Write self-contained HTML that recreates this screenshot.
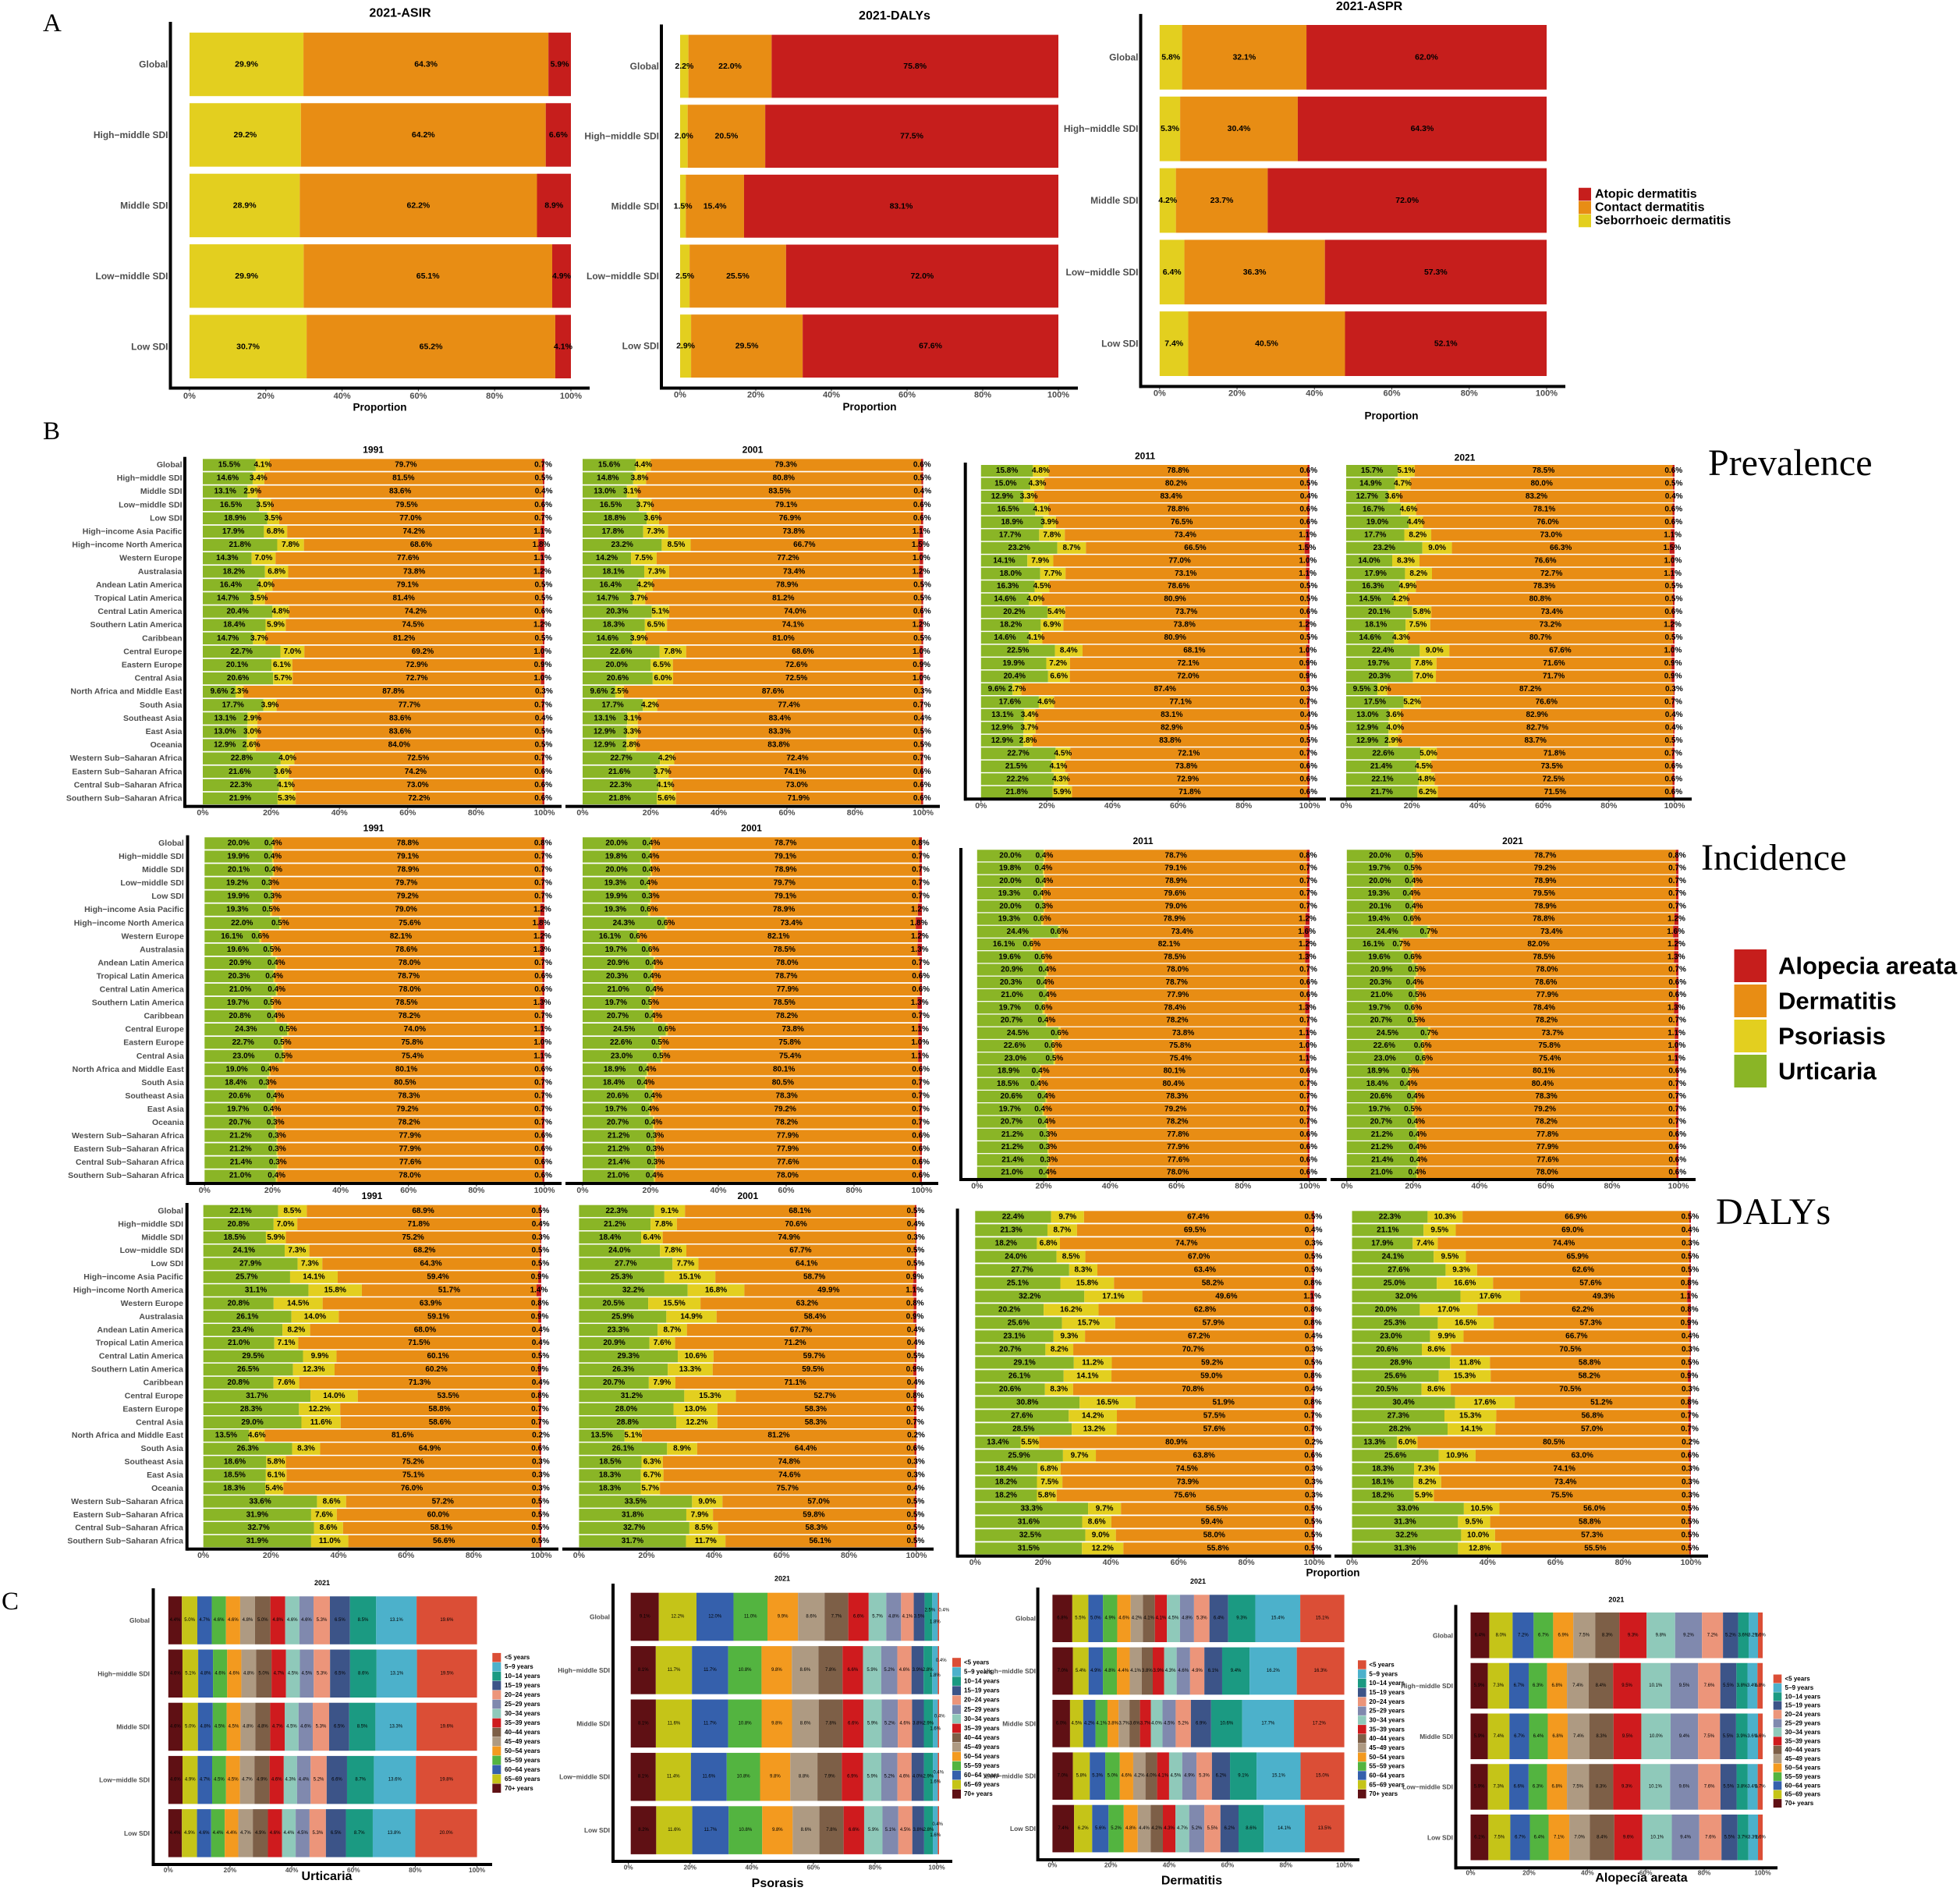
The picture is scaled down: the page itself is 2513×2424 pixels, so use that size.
<!DOCTYPE html>
<html lang="en">
<head>
<meta charset="utf-8">
<title>Global burden of skin diseases: stacked proportion charts</title>
<style>
  html, body { margin: 0; padding: 0; background: #ffffff; }
  #figure { display: block; width: 2513px; height: 2424px; font-family: "Liberation Sans", sans-serif; }
  .serif { font-family: "Liberation Serif", serif; }
</style>
</head>
<body>
<svg id="figure" xmlns="http://www.w3.org/2000/svg" width="2513" height="2424" viewBox="0 0 2513 2424">
  <rect x="0" y="0" width="2513" height="2424" fill="#ffffff"/>
  <text class="serif" x="55" y="40" font-size="33">A</text>
  <text class="serif" x="55" y="563" font-size="33">B</text>
  <text class="serif" x="2" y="2063" font-size="33">C</text>
  <text class="serif" x="2190" y="609" font-size="48">Prevalence</text>
  <text class="serif" x="2181" y="1115" font-size="48">Incidence</text>
  <text class="serif" x="2200" y="1569" font-size="48">DALYs</text>
</svg>
<script>
// ---------- shared categories, series and ticks ----------
const tickValues = [0, 20, 40, 60, 80, 100];
const tickLabels = ['0%', '20%', '40%', '60%', '80%', '100%'];
const sdiCategories = ['Global', 'High\u2212middle SDI', 'Middle SDI', 'Low\u2212middle SDI', 'Low SDI'];
const regionCategories = ['Global', 'High\u2212middle SDI', 'Middle SDI', 'Low\u2212middle SDI', 'Low SDI',
  'High\u2212income Asia Pacific', 'High\u2212income North America', 'Western Europe', 'Australasia',
  'Andean Latin America', 'Tropical Latin America', 'Central Latin America', 'Southern Latin America',
  'Caribbean', 'Central Europe', 'Eastern Europe', 'Central Asia', 'North Africa and Middle East',
  'South Asia', 'Southeast Asia', 'East Asia', 'Oceania', 'Western Sub\u2212Saharan Africa',
  'Eastern Sub\u2212Saharan Africa', 'Central Sub\u2212Saharan Africa', 'Southern Sub\u2212Saharan Africa'];

const dermatitisSeries = ['Seborrhoeic dermatitis', 'Contact dermatitis', 'Atopic dermatitis'];
const dermatitisColors = ['#e3cf1f', '#e88d14', '#c61e1c'];
const diseaseSeries = ['Urticaria', 'Psoriasis', 'Dermatitis', 'Alopecia areata'];
const diseaseColors = ['#8ab526', '#e3cf1f', '#e88d14', '#c61e1c'];
const ageSeries = ['70+ years', '65\u221269 years', '60\u221264 years', '55\u221259 years', '50\u221254 years',
  '45\u221249 years', '40\u221244 years', '35\u221239 years', '30\u221234 years', '25\u221229 years',
  '20\u221224 years', '15\u221219 years', '10\u221214 years', '5\u22129 years', '<5 years'];
const ageColors = ['#5f1014', '#c5c418', '#3560ac', '#53b440', '#f39a1f', '#ae9a82', '#7d5f47', '#cf1b1e',
  '#8fc9ba', '#8089ae', '#ec957a', '#3c5488', '#1b9a82', '#4cb1cb', '#db4e36'];

// ---------- Panel A values (rows = SDI groups, columns = dermatitisSeries) ----------
const asir2021 = [[29.9,64.3,5.9],[29.2,64.2,6.6],[28.9,62.2,8.9],[29.9,65.1,4.9],[30.7,65.2,4.1]];
const dalys2021 = [[2.2,22.0,75.8],[2.0,20.5,77.5],[1.5,15.4,83.1],[2.5,25.5,72.0],[2.9,29.5,67.6]];
const aspr2021 = [[5.8,32.1,62.0],[5.3,30.4,64.3],[4.2,23.7,72.0],[6.4,36.3,57.3],[7.4,40.5,52.1]];

// ---------- Panel B values (rows = regionCategories, columns = diseaseSeries) ----------
const prevalence1991 = [[15.5,4.1,79.7,0.7],[14.6,3.4,81.5,0.5],[13.1,2.9,83.6,0.4],[16.5,3.5,79.5,0.6],[18.9,3.5,77.0,0.7],[17.9,6.8,74.2,1.1],[21.8,7.8,68.6,1.8],[14.3,7.0,77.6,1.1],[18.2,6.8,73.8,1.2],[16.4,4.0,79.1,0.5],[14.7,3.5,81.4,0.5],[20.4,4.8,74.2,0.6],[18.4,5.9,74.5,1.2],[14.7,3.7,81.2,0.5],[22.7,7.0,69.2,1.0],[20.1,6.1,72.9,0.9],[20.6,5.7,72.7,1.0],[9.6,2.3,87.8,0.3],[17.7,3.9,77.7,0.7],[13.1,2.9,83.6,0.4],[13.0,3.0,83.6,0.5],[12.9,2.6,84.0,0.5],[22.8,4.0,72.5,0.7],[21.6,3.6,74.2,0.6],[22.3,4.1,73.0,0.6],[21.9,5.3,72.2,0.6]];
const prevalence2001 = [[15.6,4.4,79.3,0.6],[14.8,3.8,80.8,0.5],[13.0,3.1,83.5,0.4],[16.5,3.7,79.1,0.6],[18.8,3.6,76.9,0.6],[17.8,7.3,73.8,1.1],[23.2,8.5,66.7,1.5],[14.2,7.5,77.2,1.0],[18.1,7.3,73.4,1.2],[16.4,4.2,78.9,0.5],[14.7,3.7,81.2,0.5],[20.3,5.1,74.0,0.6],[18.3,6.5,74.1,1.2],[14.6,3.9,81.0,0.5],[22.6,7.8,68.6,1.0],[20.0,6.5,72.6,0.9],[20.6,6.0,72.5,1.0],[9.6,2.5,87.6,0.3],[17.7,4.2,77.4,0.7],[13.1,3.1,83.4,0.4],[12.9,3.3,83.3,0.5],[12.9,2.8,83.8,0.5],[22.7,4.2,72.4,0.7],[21.6,3.7,74.1,0.6],[22.3,4.1,73.0,0.6],[21.8,5.6,71.9,0.6]];
const prevalence2011 = [[15.8,4.8,78.8,0.6],[15.0,4.3,80.2,0.5],[12.9,3.3,83.4,0.4],[16.5,4.1,78.8,0.6],[18.9,3.9,76.5,0.6],[17.7,7.8,73.4,1.1],[23.2,8.7,66.5,1.5],[14.1,7.9,77.0,1.0],[18.0,7.7,73.1,1.1],[16.3,4.5,78.6,0.5],[14.6,4.0,80.9,0.5],[20.2,5.4,73.7,0.6],[18.2,6.9,73.8,1.2],[14.6,4.1,80.9,0.5],[22.5,8.4,68.1,1.0],[19.9,7.2,72.1,0.9],[20.4,6.6,72.0,0.9],[9.6,2.7,87.4,0.3],[17.6,4.6,77.1,0.7],[13.1,3.4,83.1,0.4],[12.9,3.7,82.9,0.5],[12.9,2.8,83.8,0.5],[22.7,4.5,72.1,0.7],[21.5,4.1,73.8,0.6],[22.2,4.3,72.9,0.6],[21.8,5.9,71.8,0.6]];
const prevalence2021 = [[15.7,5.1,78.5,0.6],[14.9,4.7,80.0,0.5],[12.7,3.6,83.2,0.4],[16.7,4.6,78.1,0.6],[19.0,4.4,76.0,0.6],[17.7,8.2,73.0,1.1],[23.2,9.0,66.3,1.5],[14.0,8.3,76.6,1.0],[17.9,8.2,72.7,1.1],[16.3,4.9,78.3,0.5],[14.5,4.2,80.8,0.5],[20.1,5.8,73.4,0.6],[18.1,7.5,73.2,1.2],[14.6,4.3,80.7,0.5],[22.4,9.0,67.6,1.0],[19.7,7.8,71.6,0.9],[20.3,7.0,71.7,0.9],[9.5,3.0,87.2,0.3],[17.5,5.2,76.6,0.7],[13.0,3.6,82.9,0.4],[12.9,4.0,82.7,0.4],[12.9,2.9,83.7,0.5],[22.6,5.0,71.8,0.7],[21.4,4.5,73.5,0.6],[22.1,4.8,72.5,0.6],[21.7,6.2,71.5,0.6]];

const incidence1991 = [[20.0,0.4,78.8,0.8],[19.9,0.4,79.1,0.7],[20.1,0.4,78.9,0.7],[19.2,0.3,79.7,0.7],[19.9,0.3,79.2,0.7],[19.3,0.5,79.0,1.2],[22.0,0.5,75.6,1.8],[16.1,0.6,82.1,1.2],[19.6,0.5,78.6,1.3],[20.9,0.4,78.0,0.7],[20.3,0.4,78.7,0.6],[21.0,0.4,78.0,0.6],[19.7,0.5,78.5,1.3],[20.8,0.4,78.2,0.7],[24.3,0.5,74.0,1.1],[22.7,0.5,75.8,1.0],[23.0,0.5,75.4,1.1],[19.0,0.4,80.1,0.6],[18.4,0.3,80.5,0.7],[20.6,0.4,78.3,0.7],[19.7,0.4,79.2,0.7],[20.7,0.3,78.2,0.7],[21.2,0.3,77.9,0.6],[21.2,0.3,77.9,0.6],[21.4,0.3,77.6,0.6],[21.0,0.4,78.0,0.6]];
const incidence2001 = [[20.0,0.4,78.7,0.8],[19.8,0.4,79.1,0.7],[20.0,0.4,78.9,0.7],[19.3,0.4,79.7,0.7],[19.9,0.3,79.1,0.7],[19.3,0.6,78.9,1.2],[24.3,0.6,73.4,1.8],[16.1,0.6,82.1,1.2],[19.7,0.6,78.5,1.3],[20.9,0.4,78.0,0.7],[20.3,0.4,78.7,0.6],[21.0,0.4,77.9,0.6],[19.7,0.5,78.5,1.3],[20.7,0.4,78.2,0.7],[24.5,0.6,73.8,1.1],[22.6,0.5,75.8,1.0],[23.0,0.5,75.4,1.1],[18.9,0.4,80.1,0.6],[18.4,0.4,80.5,0.7],[20.6,0.4,78.3,0.7],[19.7,0.4,79.2,0.7],[20.7,0.4,78.2,0.7],[21.2,0.3,77.9,0.6],[21.2,0.3,77.9,0.6],[21.4,0.3,77.6,0.6],[21.0,0.4,78.0,0.6]];
const incidence2011 = [[20.0,0.4,78.7,0.8],[19.8,0.4,79.1,0.7],[20.0,0.4,78.9,0.7],[19.3,0.4,79.6,0.7],[20.0,0.3,79.0,0.7],[19.3,0.6,78.9,1.2],[24.4,0.6,73.4,1.6],[16.1,0.6,82.1,1.2],[19.6,0.6,78.5,1.3],[20.9,0.4,78.0,0.7],[20.3,0.4,78.7,0.6],[21.0,0.4,77.9,0.6],[19.7,0.6,78.4,1.3],[20.7,0.4,78.2,0.7],[24.5,0.6,73.8,1.1],[22.6,0.6,75.8,1.0],[23.0,0.5,75.4,1.1],[18.9,0.4,80.1,0.6],[18.5,0.4,80.4,0.7],[20.6,0.4,78.3,0.7],[19.7,0.4,79.2,0.7],[20.7,0.4,78.2,0.7],[21.2,0.3,77.8,0.6],[21.2,0.3,77.9,0.6],[21.4,0.3,77.6,0.6],[21.0,0.4,78.0,0.6]];
const incidence2021 = [[20.0,0.5,78.7,0.8],[19.7,0.5,79.2,0.7],[20.0,0.4,78.9,0.7],[19.3,0.4,79.5,0.7],[20.1,0.4,78.9,0.7],[19.4,0.6,78.8,1.2],[24.4,0.7,73.4,1.6],[16.1,0.7,82.0,1.2],[19.6,0.6,78.5,1.3],[20.9,0.5,78.0,0.7],[20.3,0.4,78.6,0.6],[21.0,0.5,77.9,0.6],[19.7,0.6,78.4,1.3],[20.7,0.5,78.2,0.7],[24.5,0.7,73.7,1.1],[22.6,0.6,75.8,1.0],[23.0,0.6,75.4,1.1],[18.9,0.5,80.1,0.6],[18.4,0.4,80.4,0.7],[20.6,0.4,78.3,0.7],[19.7,0.5,79.2,0.7],[20.7,0.4,78.2,0.7],[21.2,0.4,77.8,0.6],[21.2,0.4,77.9,0.6],[21.4,0.4,77.6,0.6],[21.0,0.4,78.0,0.6]];

const dalys1991 = [[22.1,8.5,68.9,0.5],[20.8,7.0,71.8,0.4],[18.5,5.9,75.2,0.3],[24.1,7.3,68.2,0.5],[27.9,7.3,64.3,0.5],[25.7,14.1,59.4,0.9],[31.1,15.8,51.7,1.4],[20.8,14.5,63.9,0.8],[26.1,14.0,59.1,0.9],[23.4,8.2,68.0,0.4],[21.0,7.1,71.5,0.4],[29.5,9.9,60.1,0.5],[26.5,12.3,60.2,0.9],[20.8,7.6,71.3,0.4],[31.7,14.0,53.5,0.8],[28.3,12.2,58.8,0.7],[29.0,11.6,58.6,0.7],[13.5,4.6,81.6,0.2],[26.3,8.3,64.9,0.6],[18.6,5.8,75.2,0.3],[18.5,6.1,75.1,0.3],[18.3,5.4,76.0,0.3],[33.6,8.6,57.2,0.5],[31.9,7.6,60.0,0.5],[32.7,8.6,58.1,0.5],[31.9,11.0,56.6,0.5]];
const dalys2001 = [[22.3,9.1,68.1,0.5],[21.2,7.8,70.6,0.4],[18.4,6.4,74.9,0.3],[24.0,7.8,67.7,0.5],[27.7,7.7,64.1,0.5],[25.3,15.1,58.7,0.9],[32.2,16.8,49.9,1.1],[20.5,15.5,63.2,0.8],[25.9,14.9,58.4,0.9],[23.3,8.7,67.7,0.4],[20.9,7.6,71.2,0.4],[29.3,10.6,59.7,0.5],[26.3,13.3,59.5,0.9],[20.7,7.9,71.1,0.4],[31.2,15.3,52.7,0.8],[28.0,13.0,58.3,0.7],[28.8,12.2,58.3,0.7],[13.5,5.1,81.2,0.2],[26.1,8.9,64.4,0.6],[18.5,6.3,74.8,0.3],[18.3,6.7,74.6,0.3],[18.3,5.7,75.7,0.4],[33.5,9.0,57.0,0.5],[31.8,7.9,59.8,0.5],[32.7,8.5,58.3,0.5],[31.7,11.7,56.1,0.5]];
const dalys2011 = [[22.4,9.7,67.4,0.5],[21.3,8.7,69.5,0.4],[18.2,6.8,74.7,0.3],[24.0,8.5,67.0,0.5],[27.7,8.3,63.4,0.5],[25.1,15.8,58.2,0.8],[32.2,17.1,49.6,1.1],[20.2,16.2,62.8,0.8],[25.6,15.7,57.9,0.8],[23.1,9.3,67.2,0.4],[20.7,8.2,70.7,0.3],[29.1,11.2,59.2,0.5],[26.1,14.1,59.0,0.8],[20.6,8.3,70.8,0.4],[30.8,16.5,51.9,0.8],[27.6,14.2,57.5,0.7],[28.5,13.2,57.6,0.7],[13.4,5.5,80.9,0.2],[25.9,9.7,63.8,0.6],[18.4,6.8,74.5,0.3],[18.2,7.5,73.9,0.3],[18.2,5.8,75.6,0.3],[33.3,9.7,56.5,0.5],[31.6,8.6,59.4,0.5],[32.5,9.0,58.0,0.5],[31.5,12.2,55.8,0.5]];
const dalysRegion2021 = [[22.3,10.3,66.9,0.5],[21.1,9.5,69.0,0.4],[17.9,7.4,74.4,0.3],[24.1,9.5,65.9,0.5],[27.6,9.3,62.6,0.5],[25.0,16.6,57.6,0.8],[32.0,17.6,49.3,1.1],[20.0,17.0,62.2,0.8],[25.3,16.5,57.3,0.9],[23.0,9.9,66.7,0.4],[20.6,8.6,70.5,0.3],[28.9,11.8,58.8,0.5],[25.6,15.3,58.2,0.9],[20.5,8.6,70.5,0.3],[30.4,17.6,51.2,0.8],[27.3,15.3,56.8,0.7],[28.2,14.1,57.0,0.7],[13.3,6.0,80.5,0.2],[25.6,10.9,63.0,0.6],[18.3,7.3,74.1,0.3],[18.1,8.2,73.4,0.3],[18.2,5.9,75.5,0.3],[33.0,10.5,56.0,0.5],[31.3,9.5,58.8,0.5],[32.2,10.0,57.3,0.5],[31.3,12.8,55.5,0.5]];

// ---------- Panel C values (rows = SDI groups, columns = ageSeries) ----------
const urticariaAges = [[4.4,5.0,4.7,4.6,4.6,4.8,5.0,4.8,4.6,4.6,5.3,6.5,8.5,13.1,19.6],[4.6,5.1,4.8,4.6,4.6,4.8,5.0,4.7,4.5,4.5,5.3,6.5,8.6,13.1,19.5],[4.6,5.0,4.8,4.5,4.5,4.8,4.8,4.7,4.5,4.6,5.3,6.5,8.5,13.3,19.6],[4.6,4.9,4.7,4.5,4.5,4.7,4.9,4.6,4.3,4.4,5.2,6.6,8.7,13.6,19.8],[4.4,4.9,4.6,4.4,4.4,4.7,4.9,4.6,4.4,4.5,5.3,6.5,8.7,13.8,20.0]];
const psoriasisAges = [[9.1,12.2,12.0,11.0,9.9,8.6,7.7,6.6,5.7,4.8,4.1,3.5,2.5,1.8,0.4],[8.1,11.7,11.7,10.8,9.8,8.6,7.8,6.6,5.9,5.2,4.6,3.9,2.8,1.8,0.4],[8.1,11.6,11.7,10.8,9.8,8.6,7.8,6.6,5.9,5.2,4.6,3.8,2.9,1.6,0.4],[8.1,11.4,11.6,10.8,9.8,8.8,7.9,6.9,5.9,5.2,4.6,4.0,2.9,1.6,0.4],[8.2,11.6,11.7,10.8,9.8,8.6,7.8,6.6,5.9,5.1,4.5,3.8,2.8,1.6,0.4]];
const dermatitisAges = [[6.8,5.5,5.0,4.9,4.6,4.2,4.1,4.1,4.5,4.8,5.3,6.4,9.3,15.4,15.1],[7.0,5.4,4.9,4.8,4.4,4.1,3.8,3.9,4.3,4.6,4.9,6.1,9.4,16.2,16.3],[6.0,4.5,4.2,4.1,3.8,3.7,3.6,3.7,4.0,4.5,5.2,6.9,10.6,17.7,17.2],[7.0,5.8,5.3,5.0,4.6,4.2,4.0,4.1,4.5,4.9,5.3,6.2,9.1,15.1,15.0],[7.4,6.2,5.6,5.2,4.8,4.4,4.2,4.3,4.7,5.2,5.5,6.2,8.6,14.1,13.5]];
const alopeciaAges = [[6.4,8.0,7.2,6.7,6.9,7.5,8.3,9.3,9.8,9.2,7.2,5.2,3.6,3.2,1.6],[5.9,7.3,6.7,6.3,6.8,7.4,8.4,9.5,10.1,9.5,7.6,5.5,3.8,3.4,1.8],[5.9,7.4,6.7,6.4,6.8,7.4,8.3,9.5,10.0,9.4,7.5,5.5,3.9,3.6,1.6],[5.9,7.3,6.6,6.3,6.8,7.5,8.3,9.3,10.1,9.6,7.6,5.5,3.8,3.4,1.7],[6.1,7.5,6.7,6.4,7.1,7.0,8.4,9.6,10.1,9.4,7.6,5.5,3.7,3.3,1.6]];

// ---------- drawing ----------
const SVGNS = 'http://www.w3.org/2000/svg';
const svg = document.getElementById('figure');
const GREY = '#4d4d4d';

function shape(parent, tag, attrs, content) {
  const node = document.createElementNS(SVGNS, tag);
  Object.keys(attrs).forEach(function (k) { node.setAttribute(k, attrs[k]); });
  if (content !== undefined) node.textContent = content;
  parent.appendChild(node);
  return node;
}

function slug(s) {
  return String(s).toLowerCase().replace(/[^a-z0-9]+/g, '-').replace(/^-|-$/g, '');
}

function drawPanel(cfg, rows, categories, series, colors) {
  const g = shape(svg, 'g', {});
  
  

  const xScale = function (pct) { return cfg.x0 + (cfg.x100 - cfg.x0) * pct / 100; };
  const yScale = function (i) { return cfg.top + cfg.step * i; };
  const f = cfg.fonts;

  rows.forEach(function (row, i) {
    const total = row.reduce(function (a, b) { return a + b; }, 0);
    const y = yScale(i);
    let cum = 0;
    row.forEach(function (value, j) {
      const share = value / total * 100;
      const left = xScale(cum);
      const right = xScale(cum + share);
      const bar = shape(g, 'rect', { x: left, y: y, width: right - left, height: cfg.h, fill: colors[j] });
      
      
      cum += share;
    });
    cum = 0;
    row.forEach(function (value, j) {
      const share = value / total * 100;
      const mid = xScale(cum + share / 2);
      const nudge = cfg.nudge ? cfg.nudge(i, j) : [0, 0];
      const label = shape(g, 'text', {
        x: mid + nudge[0], y: y + cfg.h / 2 + nudge[1], 'text-anchor': 'middle', 'dominant-baseline': 'central',
        'font-size': f.value, 'font-weight': f.valueWeight, fill: '#000000'
      }, value.toFixed(1) + '%');
      
      
      cum += share;
    });
    if (cfg.labelRight) {
      const rowLabel = shape(g, 'text', {
        x: cfg.labelRight, y: y + cfg.h / 2, 'text-anchor': 'end', 'dominant-baseline': 'central',
        'font-size': f.category, 'font-weight': 'bold', fill: GREY
      }, categories[i]);
      
      
    }
  });

  if (cfg.yAxisX) {
    const yLine = shape(g, 'rect', { x: cfg.yAxisX - 2, y: cfg.axisTop, width: 4, height: cfg.axisY - cfg.axisTop + 2, fill: '#000000' });
    
    
  }
  const xLine = shape(g, 'rect', { x: cfg.axisL, y: cfg.axisY - 2, width: cfg.axisR - cfg.axisL, height: 4, fill: '#000000' });
  
  

  tickValues.forEach(function (tv, k) {
    const tx = xScale(tv) + (cfg.tickDx || 0);
    const tick = shape(g, 'rect', { x: tx - 0.5, y: cfg.axisY + 2, width: 1, height: 2, fill: '#333333' });
    
    
    const tickText = shape(g, 'text', {
      x: tx, y: cfg.tickY, 'text-anchor': 'middle', 'dominant-baseline': 'central',
      'font-size': f.tick, 'font-weight': 'bold', fill: GREY
    }, tickLabels[k]);
    
    
  });

  if (cfg.title) {
    const title = shape(g, 'text', {
      x: cfg.titleX, y: cfg.titleY, 'text-anchor': 'middle', 'dominant-baseline': 'central',
      'font-size': f.title, 'font-weight': 'bold', fill: '#000000'
    }, cfg.title);
    
    
  }
  if (cfg.xTitle) {
    const xTitle = shape(g, 'text', {
      x: cfg.xTitleX, y: cfg.xTitleY, 'text-anchor': 'middle', 'dominant-baseline': 'central',
      'font-size': f.xTitle, 'font-weight': 'bold', fill: '#000000'
    }, cfg.xTitle);
    
    
  }
}

function drawLegend(cfg, series, colors) {
  const g = shape(svg, 'g', {});
  
  
  const n = series.length;
  for (let k = 0; k < n; k++) {
    const idx = n - 1 - k;
    const cy = cfg.first + cfg.step * k;
    const swatch = shape(g, 'rect', { x: cfg.x, y: cy - cfg.h / 2, width: cfg.w, height: cfg.h, fill: colors[idx] });
    
    
    const text = shape(g, 'text', {
      x: cfg.textX, y: cy, 'dominant-baseline': 'central', 'font-size': cfg.font, 'font-weight': 'bold', fill: '#000000'
    }, series[idx]);
    
    
  }
}

// ---------- Panel A ----------
const fontsA = { value: 10.5, valueWeight: 'bold', category: 12, tick: 11, title: 16, xTitle: 13.5 };
drawPanel({ name: '2021-asir', fonts: fontsA, x0: 243, x100: 732, top: 41.8, step: 90.45, h: 81.4, labelRight: 215.5,
  yAxisX: 218.5, axisTop: 28, axisY: 497.5, axisL: 217, axisR: 756, tickY: 508,
  title: '2021-ASIR', titleX: 513, titleY: 17, xTitle: 'Proportion', xTitleX: 487, xTitleY: 522 },
  asir2021, sdiCategories, dermatitisSeries, dermatitisColors);
drawPanel({ name: '2021-dalys', fonts: fontsA, x0: 872, x100: 1357, top: 44.6, step: 89.65, h: 80.8, labelRight: 845,
  yAxisX: 848, axisTop: 31.4, axisY: 497.5, axisL: 846, axisR: 1382, tickY: 506.4,
  title: '2021-DALYs', titleX: 1147, titleY: 20.4, xTitle: 'Proportion', xTitleX: 1115, xTitleY: 521.4 },
  dalys2021, sdiCategories, dermatitisSeries, dermatitisColors);
drawPanel({ name: '2021-aspr', fonts: fontsA, x0: 1486.8, x100: 1983, top: 32, step: 91.8, h: 82.8, labelRight: 1459.5,
  yAxisX: 1462.5, axisTop: 17.9, axisY: 495.4, axisL: 1461, axisR: 2007, tickY: 504.6,
  title: '2021-ASPR', titleX: 1755.5, titleY: 8.6, xTitle: 'Proportion', xTitleX: 1784, xTitleY: 533 },
  aspr2021, sdiCategories, dermatitisSeries, dermatitisColors);
drawLegend({ name: 'dermatitis-types', x: 2024, w: 16, h: 16.5, first: 249, step: 17, textX: 2045, font: 16 },
  dermatitisSeries, dermatitisColors);

// ---------- Panel B ----------
const fontsB = { value: 10, valueWeight: 'bold', category: 10.5, tick: 10.5, title: 12, xTitle: 13.5 };
drawPanel({ name: 'prevalence-1991', fonts: fontsB, x0: 260, x100: 698, top: 588.3, step: 17.1, h: 15.4, labelRight: 233.5,
  yAxisX: 237, axisTop: 585.7, axisY: 1033.7, axisL: 237, axisR: 720, tickY: 1042, title: '1991', titleX: 478.6, titleY: 576.7 },
  prevalence1991, regionCategories, diseaseSeries, diseaseColors);
drawPanel({ name: 'prevalence-2001', fonts: fontsB, x0: 747, x100: 1183.6, top: 588.3, step: 17.1, h: 15.4,
  axisY: 1033.7, axisL: 725, axisR: 1205, tickY: 1042, title: '2001', titleX: 965, titleY: 576.7 },
  prevalence2001, regionCategories, diseaseSeries, diseaseColors);
drawPanel({ name: 'prevalence-2011', fonts: fontsB, x0: 1257.8, x100: 1679, top: 596, step: 16.47, h: 15,
  yAxisX: 1237.7, axisTop: 593, axisY: 1024.3, axisL: 1236, axisR: 1700, tickY: 1033, title: '2011', titleX: 1468, titleY: 584.7 },
  prevalence2011, regionCategories, diseaseSeries, diseaseColors);
drawPanel({ name: 'prevalence-2021', fonts: fontsB, x0: 1726, x100: 2147, top: 596, step: 16.47, h: 15,
  axisY: 1024.3, axisL: 1705, axisR: 2169, tickY: 1033, title: '2021', titleX: 1878, titleY: 586.7 },
  prevalence2021, regionCategories, diseaseSeries, diseaseColors);

drawPanel({ name: 'incidence-1991', fonts: fontsB, x0: 262.3, x100: 698, top: 1073.3, step: 17.05, h: 15.3, labelRight: 235.8,
  yAxisX: 240.5, axisTop: 1070.7, axisY: 1517, axisL: 240, axisR: 720, tickY: 1526, title: '1991', titleX: 479, titleY: 1061.7 },
  incidence1991, regionCategories, diseaseSeries, diseaseColors);
drawPanel({ name: 'incidence-2001', fonts: fontsB, x0: 747, x100: 1182, top: 1073.3, step: 17.05, h: 15.3,
  axisY: 1517, axisL: 725, axisR: 1203, tickY: 1526, title: '2001', titleX: 963.5, titleY: 1061.7 },
  incidence2001, regionCategories, diseaseSeries, diseaseColors);
drawPanel({ name: 'incidence-2011', fonts: fontsB, x0: 1252.8, x100: 1679, top: 1089.3, step: 16.25, h: 15,
  yAxisX: 1232, axisTop: 1087, axisY: 1512, axisL: 1232, axisR: 1701, tickY: 1520.7, title: '2011', titleX: 1465.5, titleY: 1078 },
  incidence2011, regionCategories, diseaseSeries, diseaseColors);
drawPanel({ name: 'incidence-2021', fonts: fontsB, x0: 1726.8, x100: 2152, top: 1089.3, step: 16.25, h: 15,
  axisY: 1512, axisL: 1706, axisR: 2174, tickY: 1520.7, title: '2021', titleX: 1939.5, titleY: 1078 },
  incidence2021, regionCategories, diseaseSeries, diseaseColors);

drawPanel({ name: 'dalys-1991', fonts: fontsB, x0: 260.7, x100: 694, top: 1544.7, step: 16.93, h: 15.4, labelRight: 235,
  yAxisX: 239.7, axisTop: 1542, axisY: 1985.7, axisL: 239.7, axisR: 716, tickY: 1994, title: '1991', titleX: 477, titleY: 1533 },
  dalys1991, regionCategories, diseaseSeries, diseaseColors);
drawPanel({ name: 'dalys-2001', fonts: fontsB, x0: 742.4, x100: 1175, top: 1544.7, step: 16.93, h: 15.4,
  axisY: 1985.7, axisL: 721, axisR: 1197, tickY: 1994, title: '2001', titleX: 958.8, titleY: 1533 },
  dalys2001, regionCategories, diseaseSeries, diseaseColors);
drawPanel({ name: 'dalys-2011', fonts: fontsB, x0: 1250.3, x100: 1685, top: 1552.3, step: 17, h: 15.2,
  yAxisX: 1227.6, axisTop: 1549.3, axisY: 1994.7, axisL: 1227.6, axisR: 1706.7, tickY: 2003, xTitle: 'Proportion', xTitleX: 1709, xTitleY: 2016 },
  dalys2011, regionCategories, diseaseSeries, diseaseColors);
drawPanel({ name: 'dalys-2021', fonts: fontsB, x0: 1733.5, x100: 2168, top: 1552.3, step: 17, h: 15.2,
  axisY: 1994.7, axisL: 1711, axisR: 2190, tickY: 2003 },
  dalysRegion2021, regionCategories, diseaseSeries, diseaseColors);

drawLegend({ name: 'diseases', x: 2223.5, w: 41.5, h: 42, first: 1238, step: 45, textX: 2280, font: 31 },
  diseaseSeries, diseaseColors);

// ---------- Panel C ----------
const fontsC = { value: 6, valueWeight: 'normal', category: 8.4, tick: 8.3, title: 9, xTitle: 16 };
const psoriasisTopOffsets = [[7, -8], [3.5, -12], [1.5, -9], [0, -5], [-1, -7]];
drawPanel({ name: 'urticaria-age', fonts: fontsC, x0: 215.8, x100: 611.6, top: 2046.3, step: 68.2, h: 61.5, labelRight: 192,
  yAxisX: 196.5, axisTop: 2036, axisY: 2390, axisL: 195, axisR: 631, tickY: 2397,
  title: '2021', titleX: 413, titleY: 2029, xTitle: 'Urticaria', xTitleX: 419, xTitleY: 2405.7 },
  urticariaAges, sdiCategories, ageSeries, ageColors);
drawLegend({ name: 'urticaria-ages', x: 631.3, w: 11, h: 11.6, first: 2124.7, step: 11.97, textX: 647, font: 8 }, ageSeries, ageColors);

drawPanel({ name: 'psoriasis-age', fonts: fontsC, x0: 808.7, x100: 1204, top: 2041.7, step: 68.4, h: 61.6, labelRight: 782, tickDx: -3,
  yAxisX: 786, axisTop: 2030, axisY: 2386, axisL: 785, axisR: 1221, tickY: 2393.3,
  title: '2021', titleX: 1003, titleY: 2023.7, xTitle: 'Psorasis', xTitleX: 997, xTitleY: 2414.7,
  nudge: function (i, j) {
    if (j === 14) return psoriasisTopOffsets[i];
    if (j === 13) return [0, 7];
    if (j === 12 && i === 0) return [2, -8];
    return [0, 0];
  } },
  psoriasisAges, sdiCategories, ageSeries, ageColors);
drawLegend({ name: 'psoriasis-ages', x: 1221, w: 11, h: 11.6, first: 2131, step: 12.05, textX: 1236, font: 8 }, ageSeries, ageColors);

drawPanel({ name: 'dermatitis-age', fonts: fontsC, x0: 1349.4, x100: 1723.6, top: 2044.3, step: 67.35, h: 60.7, labelRight: 1328,
  yAxisX: 1330.6, axisTop: 2035, axisY: 2384, axisL: 1329, axisR: 1743, tickY: 2390.7,
  title: '2021', titleX: 1536, titleY: 2027, xTitle: 'Dermatitis', xTitleX: 1528, xTitleY: 2411 },
  dermatitisAges, sdiCategories, ageSeries, ageColors);
drawLegend({ name: 'dermatitis-ages', x: 1741, w: 10.6, h: 11.4, first: 2134, step: 11.83, textX: 1755.4, font: 8 }, ageSeries, ageColors);

drawPanel({ name: 'alopecia-age', fonts: fontsC, x0: 1885.5, x100: 2260, top: 2067, step: 64.75, h: 58.5, labelRight: 1863,
  yAxisX: 1866.5, axisTop: 2057.3, axisY: 2394.3, axisL: 1865, axisR: 2279, tickY: 2400.7,
  title: '2021', titleX: 2072.4, titleY: 2050.3, xTitle: 'Alopecia areata', xTitleX: 2104.5, xTitleY: 2407.3 },
  alopeciaAges, sdiCategories, ageSeries, ageColors);
drawLegend({ name: 'alopecia-ages', x: 2273.7, w: 10.6, h: 11, first: 2152, step: 11.4, textX: 2288.5, font: 8 }, ageSeries, ageColors);
</script>
</body>
</html>
